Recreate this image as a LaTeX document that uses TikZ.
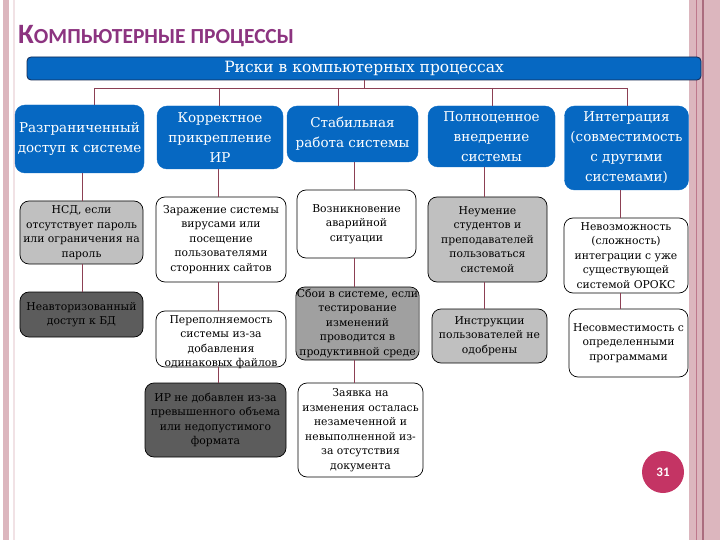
\documentclass[tikz,border=0pt]{standalone}
\usepackage{fontspec}
\setmainfont{DejaVu Serif}
\newfontfamily\titlefont{Carlito}
\definecolor{bblue}{RGB}{6,104,194}
\definecolor{bbord}{RGB}{20,40,80}
\definecolor{lgray}{RGB}{192,192,192}
\definecolor{mgray}{RGB}{160,160,160}
\definecolor{dgray}{RGB}{92,92,92}
\definecolor{linec}{RGB}{140,64,84}
\definecolor{titlec}{RGB}{140,52,128}
\definecolor{pinkband}{RGB}{220,182,190}
\definecolor{pinkline}{RGB}{190,120,140}
\definecolor{numc}{RGB}{196,52,100}
\tikzset{
  base/.style={rounded corners=9pt, inner sep=1pt, align=center, font=\fontsize{10.8}{14.5}\selectfont},
  topbox/.style={base, fill=bblue, draw=bblue, text=white, rounded corners=10pt, font=\fontsize{13.5}{20}\selectfont},
  wbox/.style={base, draw=black, line width=0.7pt, fill=white},
  lbox/.style={base, draw=black, line width=0.7pt, fill=lgray},
  mbox/.style={base, draw=black, line width=0.7pt, fill=mgray},
  dbox/.style={base, draw=black, line width=0.7pt, fill=dgray},
  conn/.style={draw=linec, line width=0.8pt}
}
\begin{document}
\begin{tikzpicture}[x=1pt,y=-1pt]
\useasboundingbox (0,0) rectangle (720,540);
% side bands
\fill[pinkband] (3,0) rectangle (9,540);
\fill[pinkband!40] (13,0) rectangle (15,540);
\fill[pinkband] (689,0) rectangle (720,540);
\draw[pinkline, line width=0.8pt] (696,0) -- (696,540);
\draw[pinkline!90!black, line width=1.2pt] (703,0) -- (703,540);
% title
\node[anchor=base west, inner sep=0, text=titlec, font=\titlefont\bfseries] (title) at (18,44)
  {\fontsize{28}{28}\selectfont К\fontsize{21.5}{22}\selectfont ОМПЬЮТЕРНЫЕ ПРОЦЕССЫ};
% header bar
\node[fill=bblue, draw=bbord, line width=0.8pt, rounded corners=4pt, minimum width=674pt, minimum height=23pt, text=white, font=\fontsize{15.5}{18}\selectfont, inner sep=0] (bar) at (364,68.5) {Риски в компьютерных процессах};
% column 1
\node[topbox, minimum width=129pt, minimum height=68pt] (b1) at (79.5,139) {Разграниченный\\доступ к системе};
\node[lbox, minimum width=123pt, minimum height=63pt] (r11) at (81.5,232.5) {НСД, если\\отсутствует пароль\\или ограничения на\\пароль};
\node[dbox, minimum width=123pt, minimum height=45pt] (r12) at (81.5,314.5) {Неавторизованный\\доступ к БД};
% column 2
\node[topbox, minimum width=126pt, minimum height=63pt] (b2) at (220,137.5) {Корректное\\прикрепление\\ИР};
\node[wbox, minimum width=130pt, minimum height=85pt] (r21) at (221,239.5) {Заражение системы\\вирусами или\\посещение\\пользователями\\сторонних сайтов};
\node[wbox, minimum width=130pt, minimum height=56pt] (r22) at (221,339) {};
\node[align=center, inner sep=0, font=\fontsize{10.8}{14.5}\selectfont] (r22t) at ([yshift=-3pt]r22.center) {Переполняемость\\системы из-за\\добавления\\одинаковых файлов};
\node[dbox, minimum width=141pt, minimum height=74pt] (r23) at (215.5,420) {ИР не добавлен из-за\\превышенного  объема\\или недопустимого\\формата};
% column 3
\node[topbox, minimum width=131pt, minimum height=56pt] (b3) at (352.5,134) {Стабильная\\работа системы};
\node[wbox, minimum width=119pt, minimum height=68pt] (r31) at (356.5,224) {Возникновение\\аварийной\\ситуации};
\node[mbox, minimum width=119pt, minimum height=73pt] (r32) at (357.5,323.5) {Сбои в системе, если\\тестирование\\изменений\\проводится в\\продуктивной среде};
\node[wbox, minimum width=125pt, minimum height=94pt] (r33) at (360.5,430) {Заявка на\\изменения осталась\\незамеченной и\\невыполненной из-\\за отсутствия\\документа};
% column 4
\node[topbox, minimum width=127pt, minimum height=61pt] (b4) at (491.5,136.5) {Полноценное\\внедрение\\системы};
\node[lbox, minimum width=119pt, minimum height=85pt] (r41) at (487.5,239.5) {Неумение\\студентов и\\преподавателей\\пользоваться\\системой};
\node[lbox, minimum width=115pt, minimum height=54pt] (r42) at (489.5,336) {Инструкции\\пользователей не\\одобрены};
% column 5
\node[topbox, minimum width=124pt, minimum height=84pt] (b5) at (626.5,148) {Интеграция\\(совместимость\\с другими\\системами)};
\node[wbox, minimum width=124pt, minimum height=75pt] (r51) at (626,255.5) {Невозможность\\(сложность)\\интеграции с уже\\существующей\\системой ОРОКС};
\node[wbox, minimum width=119pt, minimum height=68pt] (r52) at (628.5,343) {Несовместимость с\\определенными\\программами};
% page number
\node[circle, fill=numc, minimum size=42pt, inner sep=0, text=white, font=\titlefont\bfseries\fontsize{13}{13}\selectfont] (num) at (663,472) {31};
% tree connectors
\coordinate (hub) at (364,88);
\coordinate (j1) at (94,88);
\coordinate (j2) at (219,88);
\coordinate (j3) at (338,88);
\coordinate (j4) at (492,88);
\coordinate (j5) at (627,88);
\draw[conn] (bar.south) -- (hub);
\draw[conn] (j1) -- (j5);
\foreach \k in {1,...,5} { \draw[conn] (j\k) -- (j\k |- b\k.north); }
% column verticals
\coordinate (x1) at (82,0);
\coordinate (x2) at (218,0);
\coordinate (x3) at (354,0);
\coordinate (x4) at (484,0);
\coordinate (x5) at (620,0);
\draw[conn] (x1 |- b1.south) -- (x1 |- r11.north);
\draw[conn] (x1 |- r11.south) -- (x1 |- r12.north);
\draw[conn] (x2 |- b2.south) -- (x2 |- r21.north);
\draw[conn] (x2 |- r21.south) -- (x2 |- r22.north);
\draw[conn] (x2 |- r22.south) -- (x2 |- r23.north);
\draw[conn] (x3 |- b3.south) -- (x3 |- r31.north);
\draw[conn] (x3 |- r31.south) -- (x3 |- r32.north);
\draw[conn] (x3 |- r32.south) -- (x3 |- r33.north);
\draw[conn] (x4 |- b4.south) -- (x4 |- r41.north);
\draw[conn] (x4 |- r41.south) -- (x4 |- r42.north);
\draw[conn] (x5 |- b5.south) -- (x5 |- r51.north);
\draw[conn] (x5 |- r51.south) -- (x5 |- r52.north);
\end{tikzpicture}
\end{document}
